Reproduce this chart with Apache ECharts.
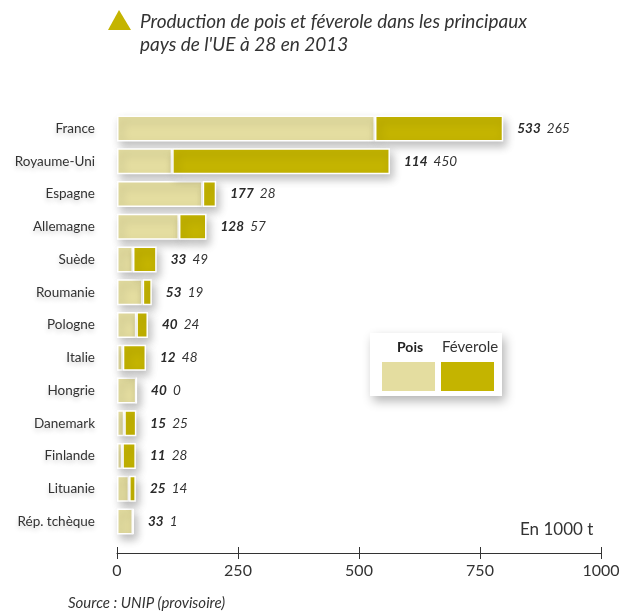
<!DOCTYPE html>
<html>
<head>
<meta charset="utf-8">
<title>Pois et féverole UE 2013</title>
<script src="https://cdn.jsdelivr.net/npm/echarts@6/dist/echarts.min.js"></script>
<style>
  html, body { margin: 0; padding: 0; background: #fff; }
</style>
</head>
<body>
<div id="main" style="width:633px;height:613px;"></div>
<script type="text/javascript">
// données (en 1000 t)
var pays = ['France', 'Royaume-Uni', 'Espagne', 'Allemagne', 'Suède', 'Roumanie', 'Pologne',
            'Italie', 'Hongrie', 'Danemark', 'Finlande', 'Lituanie', 'Rép. tchèque'];
var pois = [533, 114, 177, 128, 33, 53, 40, 12, 40, 15, 11, 25, 33];
var feverole = [265, 450, 28, 57, 49, 19, 24, 48, 0, 25, 28, 14, 1];
var ticks = [0, 250, 500, 750, 1000];

var cPois = '#e4dda0';
var cFev = '#c4b400';
var police = 'Lato, "Noto Sans", sans-serif';

var myChart = echarts.init(document.getElementById('main'));

var ombre = {
    shadowBlur: 9,
    shadowOffsetX: 3,
    shadowOffsetY: 5,
    shadowColor: 'rgba(0,0,0,0.25)'
};

var option = {
    backgroundColor: '#fff',
    textStyle: { fontFamily: police },
    grid: { left: 117, right: 32, top: 112, bottom: 75 },
    xAxis: [{
        type: 'value',
        position: 'bottom',
        min: 0, max: 1000, interval: 250,
        offset: 15,
        splitLine: { show: false },
        axisLine: { show: true, lineStyle: { color: '#333', width: 1 } },
        axisTick: { show: true, length: 6, lineStyle: { color: '#333' } },
        axisLabel: { color: '#333', fontSize: 16, margin: 10, fontFamily: police,
                     formatter: function (v) { return ticks.indexOf(v) >= 0 ? String(v) : ''; } }
    }, {
        type: 'value',
        position: 'bottom',
        min: 0, max: 1000, interval: 250,
        offset: 15,
        splitLine: { show: false },
        axisLine: { show: false },
        axisTick: { show: true, inside: true, length: 6, lineStyle: { color: '#333' } },
        axisLabel: { show: false }
    }],
    yAxis: {
        type: 'category',
        inverse: true,
        data: pays,
        axisLine: { show: false },
        axisTick: { show: false },
        axisLabel: {
            color: '#333', fontSize: 13.5, margin: 22, fontFamily: police,
            textShadowColor: 'rgba(0,0,0,0.2)', textShadowBlur: 5, textShadowOffsetY: 3
        }
    },
    series: [{
        name: 'Pois',
        type: 'bar',
        stack: 'total',
        barWidth: 26,
        data: pois,
        itemStyle: Object.assign({ color: cPois, borderColor: '#fff', borderWidth: 1.5 }, ombre)
    }, {
        name: 'Féverole',
        type: 'bar',
        stack: 'total',
        barWidth: 26,
        data: feverole,
        itemStyle: Object.assign({ color: cFev, borderColor: '#fff', borderWidth: 1.5 }, ombre),
        label: {
            show: true,
            position: 'right',
            distance: 14,
            formatter: function (p) {
                return '{a|' + pois[p.dataIndex] + '}  {b|' + feverole[p.dataIndex] + '}';
            },
            rich: {
                a: { fontWeight: 'bold', fontStyle: 'italic', fontSize: 13.5, color: '#2a2a2a', fontFamily: police },
                b: { fontStyle: 'italic', fontSize: 13.5, color: '#333', fontFamily: police }
            }
        }
    }],
    graphic: [
        // titre
        { type: 'polygon', shape: { points: [[119, 10], [108, 30], [131, 30]] }, style: { fill: cFev } },
        { type: 'text', left: 140, top: 10,
          style: { text: 'Production de pois et féverole dans les principaux\npays de l\'UE à 28 en 2013',
                   fill: '#333', font: 'italic 19px ' + police, lineHeight: 23 } },
        // légende
        { type: 'rect', shape: { x: 370, y: 333, width: 132, height: 63 },
          style: { fill: '#fff', shadowBlur: 10, shadowOffsetX: 3, shadowOffsetY: 5, shadowColor: 'rgba(0,0,0,0.3)' } },
        { type: 'text', left: 397, top: 340, style: { text: 'Pois', fill: '#222', font: 'bold 14px ' + police } },
        { type: 'text', left: 442, top: 340, style: { text: 'Féverole', fill: '#333', font: '15px ' + police } },
        { type: 'rect', shape: { x: 382, y: 362, width: 53, height: 29 }, style: { fill: cPois } },
        { type: 'rect', shape: { x: 441, y: 362, width: 53, height: 29 }, style: { fill: cFev } },
        // unité et source
        { type: 'text', left: 520, top: 521, style: { text: 'En 1000 t', fill: '#333', font: '17px ' + police } },
        { type: 'text', left: 68, top: 596, style: { text: 'Source : UNIP (provisoire)', fill: '#333', font: 'italic 15px ' + police } }
    ]
};

myChart.setOption(option);
</script>
</body>
</html>
